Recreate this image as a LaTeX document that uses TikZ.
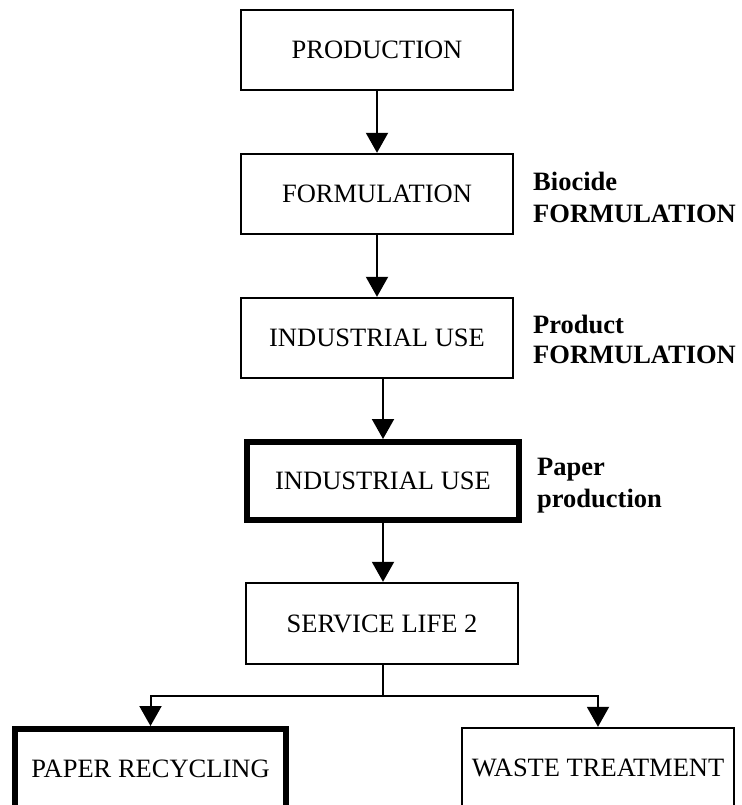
\documentclass[tikz,border=0pt]{standalone}
\usepackage{fontspec}
\setmainfont{Liberation Serif}
\usetikzlibrary{arrows.meta}
\begin{document}
\begin{tikzpicture}[x=1pt,y=-1pt,
  stage/.style={draw=black, line width=2.4pt, inner sep=0pt, minimum width=272pt,
    minimum height=80pt, font=\fontsize{26.5}{30}\selectfont},
  keystage/.style={stage, line width=6pt},
  note/.style={anchor=base west, inner sep=0pt, font=\fontsize{26.5}{30}\selectfont\bfseries},
  arr/.style={line width=2pt, -{Triangle[width=22pt,length=20pt]}},
  link/.style={line width=2pt}]
  \useasboundingbox (0,0) rectangle (741,805);
  \clip (0,0) rectangle (741,805);

  % main chain
  \node[stage] (prod) at (377,50) {PRODUCTION};
  \node[stage] (form) at (377,194) {FORMULATION};
  \node[stage] (ind1) at (377,338) {INDUSTRIAL USE};
  \node[keystage, minimum height=78pt] (ind2) at (383,481) {INDUSTRIAL USE};
  \node[stage, minimum height=81pt] (serv) at (382,623.5) {SERVICE LIFE 2};

  % end of life branches
  \node[keystage, minimum width=271pt] (recyc) at (150.5,769) {PAPER RECYCLING};
  \node[stage] (waste) at (598,768) {WASTE TREATMENT};

  % side notes
  \node[note] (bio1) at (533,190) {Biocide};
  \node[note] (bio2) at (533,222) {FORMULATION};
  \node[note] (prd1) at (533,333) {Product};
  \node[note] (prd2) at (533,363) {FORMULATION};
  \node[note] (pap1) at (537,475) {Paper};
  \node[note] (pap2) at (537,507) {production};

  % connectors
  \draw[arr] (prod.south) -- (form.north);
  \draw[arr] (form.south) -- (ind1.north);
  \draw[arr] (ind2.north |- ind1.south) -- (ind2.north);
  \draw[arr] (ind2.south) -- (serv.north -| ind2.south);
  \coordinate (split) at (383,696);
  \draw[link] (serv.south -| split) -- (split);
  \draw[arr] (split) -| (recyc.north);
  \draw[arr] (split) -| (waste.north);
\end{tikzpicture}
\end{document}
